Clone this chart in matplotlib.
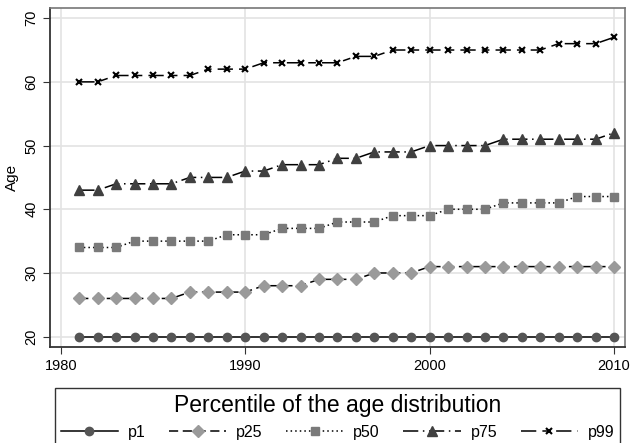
import numpy as np
import matplotlib
matplotlib.use('Agg')
import matplotlib.pyplot as plt

plt.rcParams['font.family'] = ['Liberation Sans', 'DejaVu Sans']

years = list(range(1981, 2011))

p1 = [20] * 30
p25 = [26, 26, 26, 26, 26, 26, 27, 27, 27, 27, 28, 28, 28, 29, 29,
       29, 30, 30, 30, 31, 31, 31, 31, 31, 31, 31, 31, 31, 31, 31]
p50 = [34, 34, 34, 35, 35, 35, 35, 35, 36, 36, 36, 37, 37, 37, 38,
       38, 38, 39, 39, 39, 40, 40, 40, 41, 41, 41, 41, 42, 42, 42]
p75 = [43, 43, 44, 44, 44, 44, 45, 45, 45, 46, 46, 47, 47, 47, 48,
       48, 49, 49, 49, 50, 50, 50, 50, 51, 51, 51, 51, 51, 51, 52]
p99 = [60, 60, 61, 61, 61, 61, 61, 62, 62, 62, 63, 63, 63, 63, 63,
       64, 64, 65, 65, 65, 65, 65, 65, 65, 65, 65, 66, 66, 66, 67]

fig = plt.figure(figsize=(6.34, 4.43), dpi=100)
ax = fig.add_axes([0.079, 0.217, 0.907, 0.765])

# series styles
ax.plot(years, p1, color='black', lw=1.1, linestyle='-',
        marker='o', ms=6, mfc='#555555', mec='#555555', label='p1')
ax.plot(years, p25, color='black', lw=1.1, linestyle=(0, (6, 3)),
        marker='D', ms=6, mfc='#9a9a9a', mec='#9a9a9a', label='p25')
ax.plot(years, p50, color='black', lw=1.1, linestyle=(0, (1, 2)),
        marker='s', ms=6, mfc='#7a7a7a', mec='#7a7a7a', label='p50')
ax.plot(years, p75, color='black', lw=1.1, linestyle=(0, (10, 3, 1, 3)),
        marker='^', ms=7, mfc='#404040', mec='#404040', label='p75')
ax.plot(years, p99, color='black', lw=1.1, linestyle=(0, (10, 4, 5, 4)),
        marker='x', ms=4, mew=1.5, mfc='black', mec='black', label='p99')

ax.set_xlim(1979.42, 2010.6)
ax.set_ylim(18.4, 71.6)
ax.set_xticks([1980, 1990, 2000, 2010])
ax.set_yticks([20, 30, 40, 50, 60, 70])
ax.set_yticklabels(['20', '30', '40', '50', '60', '70'], rotation=90, va='center')
ax.set_ylabel('Age', fontsize=11)
ax.tick_params(labelsize=10.5, length=5, color='#333333')

ax.grid(True, color='#e3e3e3', lw=1.2)
ax.set_axisbelow(True)
for s in ['top', 'right']:
    ax.spines[s].set_color('#777777')
    ax.spines[s].set_linewidth(1.2)
for s in ['left', 'bottom']:
    ax.spines[s].set_color('#333333')
    ax.spines[s].set_linewidth(1.3)

# legend box spans 55..620 px wide, bottom edge runs off the figure
leg = fig.legend(loc='lower left', bbox_to_anchor=(0.0868, -0.006, 0.891, 0.1),
                 mode='expand', ncol=5,
                 title='Percentile of the age distribution', title_fontsize=16.5,
                 fontsize=11.5, frameon=True, fancybox=False, edgecolor='black',
                 handlelength=3.6, columnspacing=1.0, handletextpad=0.6,
                 borderpad=0.35, borderaxespad=0)
leg.get_frame().set_linewidth(1.0)

fig.savefig('out.png', dpi=100)
